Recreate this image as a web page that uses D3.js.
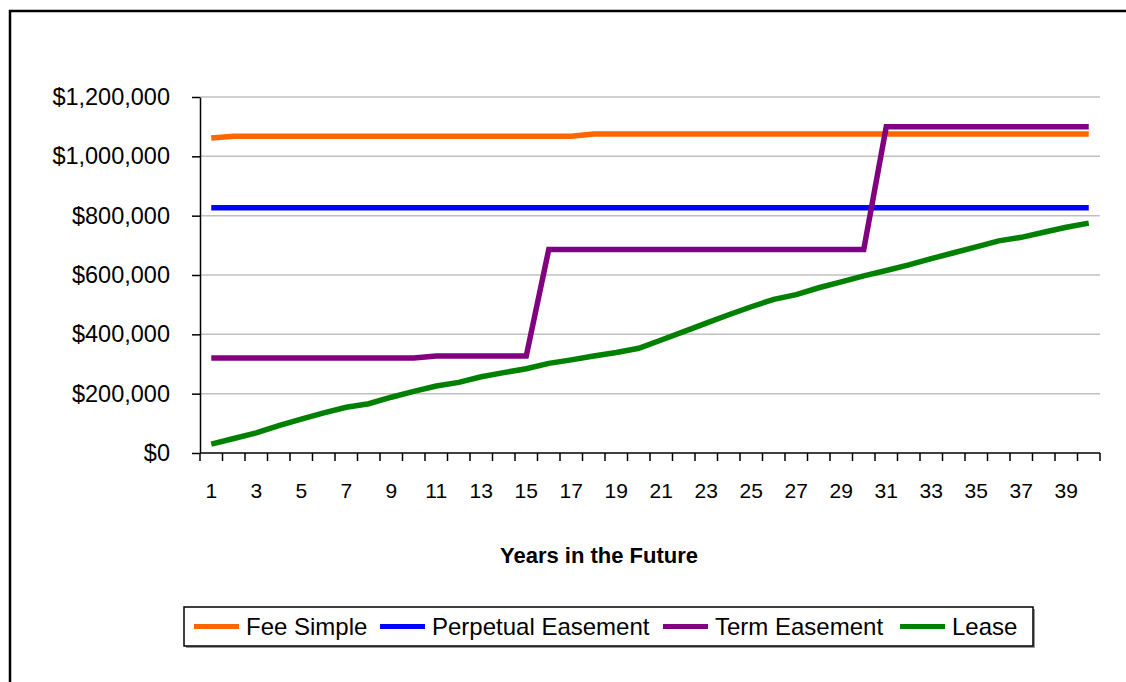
<!DOCTYPE html>
<html>
<head>
<meta charset="utf-8">
<script src="https://cdn.jsdelivr.net/npm/d3@7"></script>
<style>
  body { margin: 0; background: #fff; }
  svg { display: block; font-family: "Liberation Sans", Arial, sans-serif; }
</style>
</head>
<body>
<div id="vis"></div>
<script>
// years on the x axis
var years = d3.range(1, 41);
var yearLabels = years.filter(function (d) { return d % 2 === 1; });

// series values
var feeSimple = [1062000, 1068000, 1068000, 1068000, 1068000, 1068000, 1068000, 1068000,
  1068000, 1068000, 1068000, 1068000, 1068000, 1068000, 1068000, 1068000, 1068000,
  1075000, 1075000, 1075000, 1075000, 1075000, 1075000, 1075000, 1075000, 1075000,
  1075000, 1075000, 1075000, 1075000, 1075000, 1075000, 1075000, 1075000, 1075000,
  1075000, 1075000, 1075000, 1075000, 1075000];

var perpetualEasement = [827000, 827000, 827000, 827000, 827000, 827000, 827000, 827000,
  827000, 827000, 827000, 827000, 827000, 827000, 827000, 827000, 827000, 827000,
  827000, 827000, 827000, 827000, 827000, 827000, 827000, 827000, 827000, 827000,
  827000, 827000, 827000, 827000, 827000, 827000, 827000, 827000, 827000, 827000,
  827000, 827000];

var termEasement = [320000, 320000, 320000, 320000, 320000, 320000, 320000, 320000,
  320000, 320000, 327000, 327000, 327000, 327000, 327000, 686000, 686000, 686000,
  686000, 686000, 686000, 686000, 686000, 686000, 686000, 686000, 686000, 686000,
  686000, 686000, 1100000, 1100000, 1100000, 1100000, 1100000, 1100000, 1100000,
  1100000, 1100000, 1100000];

var lease = [30000, 49000, 68000, 92000, 114000, 135000, 154000, 166000, 188000, 208000,
  226000, 238000, 257000, 271000, 284000, 302000, 314000, 327000, 339000, 353000,
  381000, 409000, 438000, 466000, 493000, 518000, 534000, 557000, 577000, 597000,
  615000, 634000, 655000, 675000, 695000, 715000, 727000, 744000, 761000, 775000];

var yTicks = [0, 200000, 400000, 600000, 800000, 1000000, 1200000];

var seriesNames = ['Fee Simple', 'Perpetual Easement', 'Term Easement', 'Lease'];
var seriesColors = ['#ff6600', '#0000ff', '#800080', '#008000'];
var seriesValues = [feeSimple, perpetualEasement, termEasement, lease];

// layout
var width = 1126;
var height = 682;
var plot = { left: 200, right: 1100, top: 97, bottom: 453 };

var svg = d3.select('#vis')
  .append('svg')
  .attr('width', width)
  .attr('height', height);

// outer chart border (runs off the right and bottom)
svg.append('rect')
  .attr('x', 10)
  .attr('y', 11)
  .attr('width', 1140)
  .attr('height', 700)
  .attr('fill', '#fff')
  .attr('stroke', '#000')
  .attr('stroke-width', 2.5);

var x = d3.scaleBand()
  .domain(years)
  .range([plot.left, plot.right])
  .padding(0);

var y = d3.scaleLinear()
  .domain([0, 1200000])
  .range([plot.bottom, plot.top]);

var fmt = function (d) { return '$' + d3.format(',')(d); };

// gridlines
svg.append('g')
  .selectAll('line')
  .data(yTicks.filter(function (d) { return d > 0; }))
  .enter()
  .append('line')
  .attr('x1', plot.left)
  .attr('x2', plot.right)
  .attr('y1', function (d) { return y(d); })
  .attr('y2', function (d) { return y(d); })
  .attr('stroke', '#c0c0c0')
  .attr('stroke-width', 1.5);

// y axis
var yAxis = svg.append('g')
  .attr('transform', 'translate(' + plot.left + ',0)')
  .call(d3.axisLeft(y).tickValues(yTicks).tickFormat(fmt).tickSize(8).tickSizeOuter(0).tickPadding(22));
yAxis.select('.domain').attr('stroke', '#000').attr('stroke-width', 1.5);
yAxis.selectAll('.tick line').attr('stroke', '#000').attr('stroke-width', 1.5);
yAxis.selectAll('text')
  .attr('fill', '#000')
  .style('font-family', '"Liberation Sans", Arial, sans-serif')
  .style('font-size', '23.5px');

// x axis line and category boundary ticks
var boundaries = years.map(function (d) { return x(d); }).concat([plot.right]);
svg.append('line')
  .attr('x1', plot.left)
  .attr('x2', plot.right)
  .attr('y1', plot.bottom)
  .attr('y2', plot.bottom)
  .attr('stroke', '#000')
  .attr('stroke-width', 1.5);
svg.append('g')
  .selectAll('line')
  .data(boundaries)
  .enter()
  .append('line')
  .attr('x1', function (d) { return d; })
  .attr('x2', function (d) { return d; })
  .attr('y1', plot.bottom)
  .attr('y2', plot.bottom + 8)
  .attr('stroke', '#000')
  .attr('stroke-width', 1.5);

// x labels, every other year
var xAxis = svg.append('g')
  .attr('transform', 'translate(0,' + plot.bottom + ')')
  .call(d3.axisBottom(x).tickValues(yearLabels).tickSize(0).tickPadding(30));
xAxis.select('.domain').remove();
xAxis.selectAll('text')
  .attr('fill', '#000')
  .style('font-family', '"Liberation Sans", Arial, sans-serif')
  .style('font-size', '21px');

// x axis title
svg.append('text')
  .attr('x', 599)
  .attr('y', 563)
  .attr('text-anchor', 'middle')
  .attr('font-weight', 'bold')
  .attr('font-size', 22)
  .text('Years in the Future');

// series lines
var line = d3.line()
  .x(function (d, i) { return x(years[i]) + x.bandwidth() / 2; })
  .y(function (d) { return y(d); });

svg.append('g')
  .selectAll('path')
  .data(seriesValues)
  .enter()
  .append('path')
  .attr('d', line)
  .attr('fill', 'none')
  .attr('stroke', function (d, i) { return seriesColors[i]; })
  .attr('stroke-width', 5.5);

// legend
var legendBox = { x: 184, y: 607, w: 849, h: 39 };
var legendStarts = [194, 380, 663, 900];

svg.append('rect')
  .attr('x', legendBox.x + 2)
  .attr('y', legendBox.y + 2)
  .attr('width', legendBox.w)
  .attr('height', legendBox.h)
  .attr('fill', '#999');
svg.append('rect')
  .attr('x', legendBox.x)
  .attr('y', legendBox.y)
  .attr('width', legendBox.w)
  .attr('height', legendBox.h)
  .attr('fill', '#fff')
  .attr('stroke', '#000')
  .attr('stroke-width', 1.5);

var items = svg.append('g')
  .selectAll('g')
  .data(seriesNames)
  .enter()
  .append('g')
  .attr('transform', function (d, i) { return 'translate(' + legendStarts[i] + ',' + (legendBox.y + legendBox.h / 2) + ')'; });

items.append('line')
  .attr('x1', 0)
  .attr('x2', 45)
  .attr('stroke', function (d, i) { return seriesColors[i]; })
  .attr('stroke-width', 5);

items.append('text')
  .attr('x', 52)
  .attr('y', 8)
  .attr('font-size', 24)
  .text(function (d) { return d; });
</script>
</body>
</html>
